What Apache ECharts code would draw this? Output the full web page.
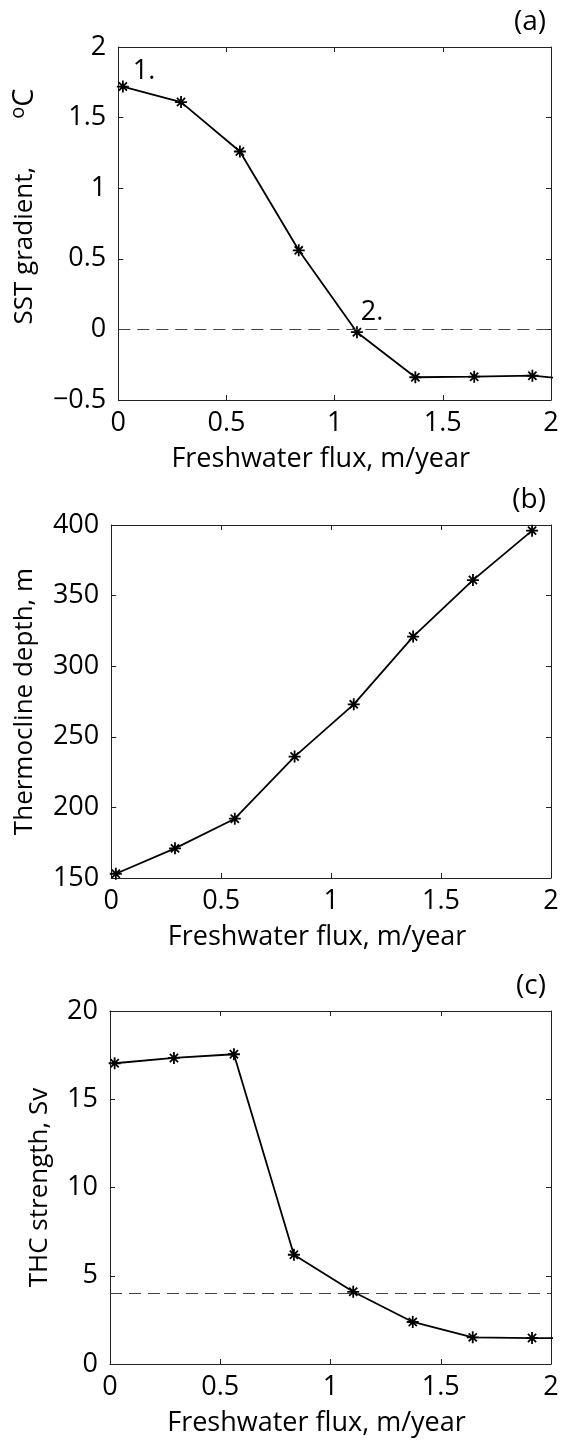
<!DOCTYPE html>
<html>
<head>
<meta charset="utf-8">
<script src="https://cdn.jsdelivr.net/npm/echarts@6/dist/echarts.min.js"></script>
<style>
html,body{margin:0;padding:0;background:#fff;}
#chart{width:563px;height:1440px;}
</style>
</head>
<body>
<div id="chart"></div>
<script>
// ---- data ----
const freshwaterFlux = [0.021, 0.290, 0.562, 0.834, 1.103, 1.373, 1.645, 1.914, 2.186];
const sstGradient    = [1.72, 1.61, 1.26, 0.56, -0.02, -0.339, -0.335, -0.328, -0.365];
const thermoDepth    = [153, 171, 192, 236, 273, 321, 361, 396];
const thcStrength    = [17.04, 17.34, 17.55, 6.19, 4.09, 2.38, 1.51, 1.47, 1.46];
const xTicks = [0, 0.5, 1, 1.5, 2];
const panelLabels = ['(a)', '(b)', '(c)'];
const yNames = ['SST gradient,', 'Thermocline depth, m', 'THC strength, Sv'];
const xName = 'Freshwater flux, m/year';
const yRanges = [[-0.5, 2, 0.5], [150, 400, 50], [0, 20, 5]];
const refLines = [0, null, 4];
const pointNotes = {0: {0: '1.', 4: '2.'}};

const FONT = '"Open Sans", "Noto Sans", sans-serif';
const FS = 27;
const NFS = 26;
const tops = [47, 525, 1011];
const H = 353;
const nameGaps = [60, 68, 50];
const star = 'path://M5,0L5,10M0,5L10,5M1.6,1.6L8.4,8.4M8.4,1.6L1.6,8.4';

const chart = echarts.init(document.getElementById('chart'), null, {renderer: 'canvas'});

const grids = [], xAxes = [], yAxes = [], series = [], titles = [];
const seriesData = [sstGradient, thermoDepth, thcStrength];
const axisLineStyle = {color: '#222', width: 1};
const tickStyle = {show: true, inside: true, length: 5, lineStyle: {color: '#222', width: 1}};

for (let i = 0; i < 3; i++) {
  grids.push({left: 110, right: 12, top: tops[i], height: H, containLabel: false});
  const [ymin, ymax, yint] = yRanges[i];
  xAxes.push({
    type: 'value', gridIndex: i, position: 'bottom', min: xTicks[0], max: xTicks[xTicks.length - 1], interval: 0.5,
    axisLine: {show: true, onZero: false, lineStyle: axisLineStyle},
    axisTick: tickStyle, splitLine: {show: false},
    axisLabel: {show: true, margin: 10, color: '#000', fontFamily: FONT, fontSize: FS,
      formatter: v => String(v)},
    name: xName, nameLocation: 'middle', nameGap: 46,
    nameTextStyle: {color: '#000', fontFamily: FONT, fontSize: NFS + 1, padding: [0, 28, 0, 0]}
  });
  xAxes.push({
    type: 'value', gridIndex: i, position: 'top', min: 0, max: 2, interval: 0.5,
    axisLine: {show: true, onZero: false, lineStyle: axisLineStyle},
    axisTick: tickStyle, splitLine: {show: false}, axisLabel: {show: false}
  });
  const yName = i === 0 ? 'SST gradient,{sp|}{sup|o}{c|C}' : yNames[i];
  yAxes.push({
    type: 'value', gridIndex: i, position: 'left', min: ymin, max: ymax, interval: yint,
    axisLine: {show: true, onZero: false, lineStyle: axisLineStyle},
    axisTick: tickStyle, splitLine: {show: false},
    axisLabel: {show: true, margin: 12, color: '#000', fontFamily: FONT, fontSize: FS,
      formatter: v => String(v).replace('-', '\u2212')},
    name: yName, nameLocation: 'middle', nameGap: nameGaps[i],
    nameTextStyle: {color: '#000', fontFamily: FONT, fontSize: NFS, lineHeight: 34,
      padding: i === 0 ? [0, 0, 0, 34] : 0,
      rich: {
        sp: {width: 48, fontFamily: FONT, fontSize: NFS, lineHeight: 34},
        c: {fontFamily: FONT, fontSize: 29, lineHeight: 34, color: '#000'},
        sup: {fontFamily: FONT, fontSize: 20, verticalAlign: 'top', lineHeight: 10, color: '#000'}
      }}
  });
  yAxes.push({
    type: 'value', gridIndex: i, position: 'right', min: ymin, max: ymax, interval: yint,
    axisLine: {show: true, onZero: false, lineStyle: axisLineStyle},
    axisTick: tickStyle, splitLine: {show: false}, axisLabel: {show: false}
  });

  const vals = seriesData[i];
  const notes = pointNotes[i] || {};
  const data = vals.map((v, k) => {
    const item = {value: [freshwaterFlux[k], v]};
    if (notes[k]) {
      item.label = {show: true, formatter: notes[k], position: 'right',
        offset: k === 0 ? [-2, -15] : [-8, -20],
        color: '#000', fontFamily: FONT, fontSize: FS};
    }
    return item;
  });
  const s = {
    type: 'line', xAxisIndex: 2 * i, yAxisIndex: 2 * i, data: data,
    symbol: star, symbolSize: 12, showAllSymbol: true, clip: true,
    lineStyle: {color: '#000', width: 1.8},
    itemStyle: {color: 'rgba(0,0,0,0)', borderColor: '#000', borderWidth: 1.8},
    emphasis: {disabled: true}, animation: false, z: 3
  };
  if (refLines[i] !== null) {
    s.markLine = {
      silent: true, symbol: ['none', 'none'], animation: false,
      label: {show: false},
      lineStyle: {color: '#444', width: 1, type: [12, 7]},
      data: [{yAxis: refLines[i]}]
    };
  }
  series.push(s);

  titles.push({
    text: panelLabels[i], right: 12, top: tops[i] - 44,
    textStyle: {color: '#000', fontFamily: FONT, fontSize: 28, fontWeight: 'normal'}
  });
}

chart.setOption({
  backgroundColor: '#fff',
  animation: false,
  title: titles,
  grid: grids,
  xAxis: xAxes,
  yAxis: yAxes,
  series: series
});
</script>
</body>
</html>
